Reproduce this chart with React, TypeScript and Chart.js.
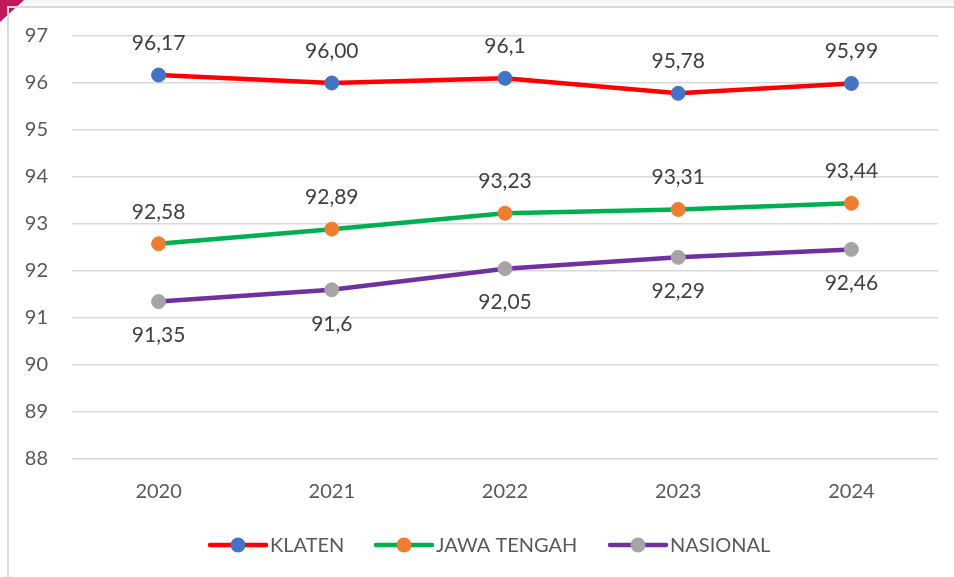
import React, { useEffect, useRef } from "react";
import { Chart, registerables } from "chart.js";

Chart.register(...registerables);

const years = ["2020", "2021", "2022", "2023", "2024"];
const klaten = [96.17, 96.0, 96.1, 95.78, 95.99];
const jawaTengah = [92.58, 92.89, 93.23, 93.31, 93.44];
const nasional = [91.35, 91.6, 92.05, 92.29, 92.46];
const klatenLabels = ["96,17", "96,00", "96,1", "95,78", "95,99"];
const jawaTengahLabels = ["92,58", "92,89", "93,23", "93,31", "93,44"];
const nasionalLabels = ["91,35", "91,6", "92,05", "92,29", "92,46"];
const seriesNames = ["KLATEN", "JAWA TENGAH", "NASIONAL"];
const yMin = 88;
const yMax = 97;

const FONT = "Lato, 'Open Sans', sans-serif";
const TEXT = "#595959";

const labelPlugin = {
  id: "valueLabels",
  afterDatasetsDraw(chart: any) {
    const ctx = chart.ctx;
    ctx.save();
    ctx.font = `21px ${FONT}`;
    ctx.fillStyle = "#404040";
    ctx.textAlign = "center";
    ctx.textBaseline = "middle";
    chart.data.datasets.forEach((ds: any, i: number) => {
      const meta = chart.getDatasetMeta(i);
      meta.data.forEach((pt: any, j: number) => {
        const off = ds.labelPos === "below" ? 34 : -32;
        ctx.fillText(ds.valueLabels[j], pt.x, pt.y + off);
      });
    });
    ctx.restore();
  },
};

const legendPlugin = {
  id: "customLegend",
  afterDraw(chart: any) {
    const ctx = chart.ctx;
    const y = 545;
    const starts = [210, 376, 610];
    ctx.save();
    ctx.font = `20px ${FONT}`;
    ctx.textBaseline = "middle";
    ctx.textAlign = "left";
    chart.data.datasets.forEach((ds: any, i: number) => {
      const x0 = starts[i];
      ctx.strokeStyle = ds.borderColor;
      ctx.lineWidth = 4.5;
      ctx.lineCap = "round";
      ctx.beginPath();
      ctx.moveTo(x0, y);
      ctx.lineTo(x0 + 56, y);
      ctx.stroke();
      ctx.fillStyle = ds.pointBackgroundColor;
      ctx.beginPath();
      ctx.arc(x0 + 28, y, 7.5, 0, Math.PI * 2);
      ctx.fill();
      ctx.fillStyle = TEXT;
      ctx.fillText(ds.label, x0 + 60, y + 1);
    });
    ctx.restore();
  },
};

export default function App() {
  const ref = useRef<HTMLCanvasElement>(null);
  useEffect(() => {
    if (!ref.current) return;
    const mk = (label: string, data: number[], line: string, pt: string, labels: string[], pos: string) => ({
      label,
      data,
      borderColor: line,
      backgroundColor: line,
      borderWidth: 4.5,
      pointBackgroundColor: pt,
      pointBorderColor: pt,
      pointRadius: 7,
      pointBorderWidth: 1,
      tension: 0,
      valueLabels: labels,
      labelPos: pos,
    });
    const chart = new Chart(ref.current, {
      type: "line",
      data: {
        labels: years,
        datasets: [
          mk(seriesNames[0], klaten, "#FF0000", "#4472C4", klatenLabels, "above"),
          mk(seriesNames[1], jawaTengah, "#00B050", "#ED7D31", jawaTengahLabels, "above"),
          mk(seriesNames[2], nasional, "#7030A0", "#A5A5A5", nasionalLabels, "below"),
        ] as any,
      },
      options: {
        animation: false,
        responsive: false,
        maintainAspectRatio: false,
        layout: { padding: { left: 7, right: 16, top: 25, bottom: 52 } },
        plugins: {
          legend: { display: false },
          tooltip: { enabled: false },
        },
        scales: {
          x: {
            offset: true,
            grid: { display: false, drawTicks: false },
            border: { display: false },
            ticks: { color: TEXT, font: { family: FONT, size: 20 }, padding: 21 },
          },
          y: {
            min: yMin,
            max: yMax,
            afterFit: (s: any) => {
              s.width = 65;
            },
            grid: { color: "#D9D9D9", lineWidth: 1.5, drawTicks: false },
            border: { display: false },
            ticks: { stepSize: 1, color: TEXT, font: { family: FONT, size: 20 }, padding: 24 },
          },
        },
      },
      plugins: [labelPlugin, legendPlugin],
    });
    return () => chart.destroy();
  }, []);
  return (
    <div style={{ position: "fixed", left: 0, top: 0, width: 954, height: 577, background: "#fff", overflow: "hidden" }}>
      <div style={{ position: "absolute", left: 0, top: 0, width: 954, height: 6, background: "linear-gradient(#f4f4f4, #fbfbfb)" }} />
      <div style={{ position: "absolute", left: 0, top: 0, width: 24, height: 22, background: "#C0185A", clipPath: "polygon(0 0, 100% 0, 0 100%)" }} />
      <div style={{ position: "absolute", left: 7, top: 6, width: 947, height: 571, borderLeft: "2px solid #D9D9D9", borderTop: "2px solid #D9D9D9", boxSizing: "border-box" }} />
      <canvas ref={ref} width={954} height={577} style={{ position: "absolute", left: 0, top: 0, display: "block" }} />
    </div>
  );
}
